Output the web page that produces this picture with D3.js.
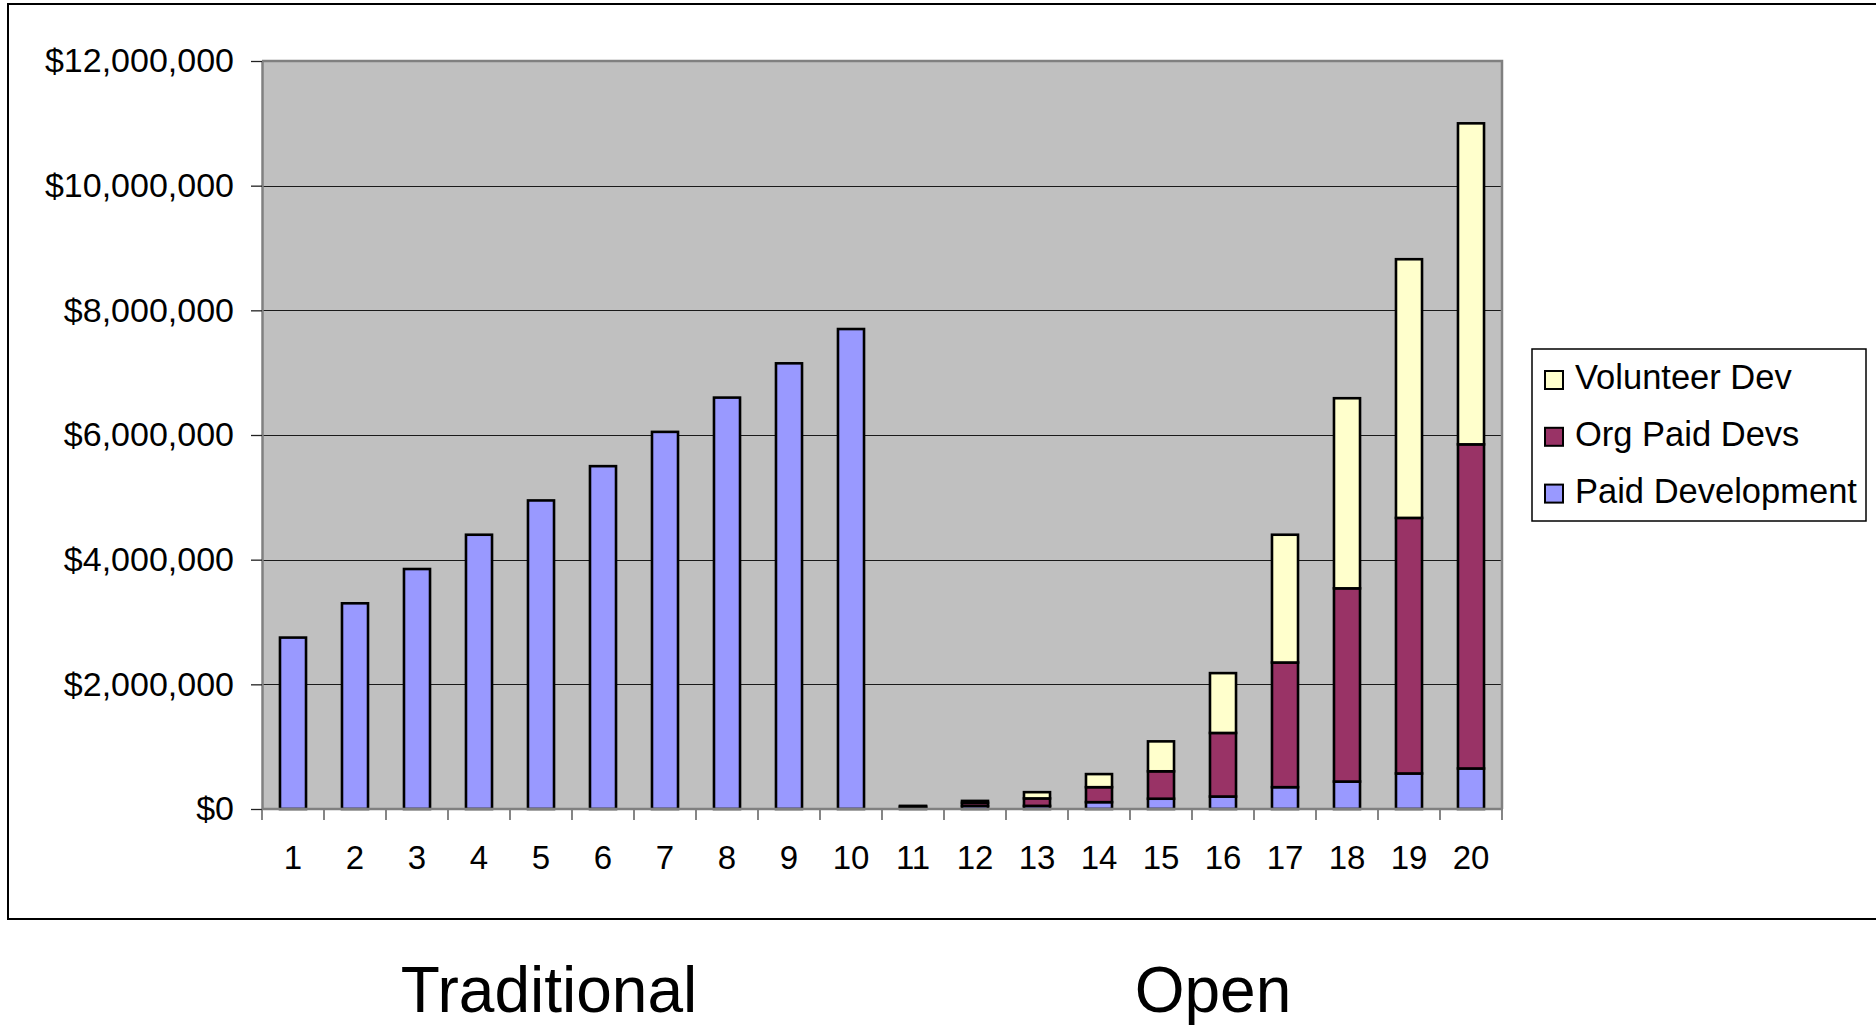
<!DOCTYPE html>
<html>
<head>
<meta charset="utf-8">
<script src="https://cdn.jsdelivr.net/npm/d3@7/dist/d3.min.js"></script>
<style>
  html, body { margin: 0; padding: 0; background: #fff; }
  svg { display: block; font-family: "Liberation Sans", Arial, sans-serif; }
</style>
</head>
<body>
<svg id="chart" width="1876" height="1027"></svg>
<script>
// Development cost per period, in millions of dollars
const categories = ["1","2","3","4","5","6","7","8","9","10","11","12","13","14","15","16","17","18","19","20"];
const paidDevelopment = [2.75, 3.30, 3.85, 4.40, 4.95, 5.50, 6.05, 6.60, 7.15, 7.70, 0.02, 0.05, 0.05, 0.11, 0.165, 0.20, 0.35, 0.44, 0.57, 0.65];
const orgPaidDevs     = [0, 0, 0, 0, 0, 0, 0, 0, 0, 0, 0.02, 0.05, 0.12, 0.24, 0.44, 1.02, 2.00, 3.10, 4.10, 5.20];
const volunteerDev    = [0, 0, 0, 0, 0, 0, 0, 0, 0, 0, 0.01, 0.03, 0.10, 0.21, 0.48, 0.96, 2.05, 3.05, 4.15, 5.15];
const seriesNames = ["Paid Development", "Org Paid Devs", "Volunteer Dev"];
const yTicks = [0, 2e6, 4e6, 6e6, 8e6, 10e6, 12e6];
const groupLabels = ["Traditional", "Open"];

const colors = { "Paid Development": "#9999FF", "Org Paid Devs": "#993366", "Volunteer Dev": "#FFFFCC" };

const svg = d3.select("#chart");
const plot = { left: 262, right: 1502, top: 61, bottom: 809 };

const rows = categories.map((c, i) => ({
  cat: c,
  "Paid Development": paidDevelopment[i] * 1e6,
  "Org Paid Devs": orgPaidDevs[i] * 1e6,
  "Volunteer Dev": volunteerDev[i] * 1e6
}));
const stacked = d3.stack().keys(seriesNames)(rows);

const x = d3.scaleBand().domain(categories).range([plot.left, plot.right])
  .paddingInner(0.58).paddingOuter(0.29);
const y = d3.scaleLinear().domain([0, 12e6]).range([plot.bottom, plot.top]);

// Outer chart frame
svg.append("rect").attr("x", 8).attr("y", 4).attr("width", 1900).attr("height", 915)
  .attr("fill", "none").attr("stroke", "#000").attr("stroke-width", 2);

// Plot background
svg.append("rect").attr("x", plot.left).attr("y", plot.top)
  .attr("width", plot.right - plot.left).attr("height", plot.bottom - plot.top)
  .attr("fill", "#C0C0C0");

// Horizontal gridlines
svg.append("g").selectAll("line").data(yTicks.filter(t => t > 0 && t < 12e6)).join("line")
  .attr("x1", plot.left).attr("x2", plot.right)
  .attr("y1", d => Math.round(y(d)) + 0.5).attr("y2", d => Math.round(y(d)) + 0.5)
  .attr("stroke", "#1a1a1a").attr("stroke-width", 1.1);

// Plot border (top and right)
svg.append("path")
  .attr("d", `M${plot.left},${plot.top}H${plot.right}V${plot.bottom}`)
  .attr("fill", "none").attr("stroke", "#808080").attr("stroke-width", 2.5);

// Stacked bars
svg.append("g").selectAll("g").data(stacked).join("g")
  .attr("fill", d => colors[d.key])
  .selectAll("rect").data(d => d.filter(s => s[1] - s[0] > 0)).join("rect")
  .attr("x", d => x(d.data.cat))
  .attr("width", x.bandwidth())
  .attr("y", d => y(d[1]))
  .attr("height", d => y(d[0]) - y(d[1]))
  .attr("stroke", "#000").attr("stroke-width", 2.6);

// Y axis
const yAxis = svg.append("g").attr("transform", `translate(${plot.left},0)`)
  .call(d3.axisLeft(y).tickValues(yTicks).tickFormat(d3.format("$,")).tickSizeInner(11).tickSizeOuter(0).tickPadding(17));
yAxis.select(".domain").attr("stroke", "#808080").attr("stroke-width", 2.5);
yAxis.selectAll(".tick line").attr("stroke", "#222").attr("stroke-width", 1.3);
yAxis.selectAll("text").attr("font-size", 34).attr("fill", "#000");

// X axis: labels centred under bars, ticks on category boundaries
const xAxis = svg.append("g").attr("transform", `translate(0,${plot.bottom})`)
  .call(d3.axisBottom(x).tickSize(0).tickPadding(37));
xAxis.select(".domain").remove();
xAxis.selectAll("text").attr("font-size", 33).attr("fill", "#000");

const boundaries = d3.range(categories.length + 1).map(k => plot.left + k * x.step());
svg.append("g").selectAll("line").data(boundaries).join("line")
  .attr("x1", d => d).attr("x2", d => d)
  .attr("y1", plot.bottom).attr("y2", plot.bottom + 11)
  .attr("stroke", "#444").attr("stroke-width", 1.3);
svg.append("line").attr("x1", plot.left).attr("x2", plot.right + 1)
  .attr("y1", plot.bottom).attr("y2", plot.bottom)
  .attr("stroke", "#808080").attr("stroke-width", 2.5);

// Legend
const legend = svg.append("g");
legend.append("rect").attr("x", 1532).attr("y", 349).attr("width", 334).attr("height", 172)
  .attr("fill", "#fff").attr("stroke", "#000").attr("stroke-width", 1.5);
const legendOrder = seriesNames.slice().reverse();
const item = legend.selectAll("g.item").data(legendOrder).join("g")
  .attr("class", "item")
  .attr("transform", (d, i) => `translate(1545,${380 + i * 56.8})`);
item.append("rect").attr("x", 0).attr("y", -9).attr("width", 18).attr("height", 18)
  .attr("fill", d => colors[d]).attr("stroke", "#000").attr("stroke-width", 2);
item.append("text").attr("x", 30).attr("y", -3).attr("dy", "0.36em")
  .attr("font-size", 34.5).attr("fill", "#000").text(d => d);

// Group labels beneath the chart
const groupPos = [549, 1213];
svg.append("g").selectAll("text").data(groupLabels).join("text")
  .attr("x", (d, i) => groupPos[i]).attr("y", 1012)
  .attr("text-anchor", "middle").attr("font-size", 64).attr("fill", "#000")
  .text(d => d);
</script>
</body>
</html>
